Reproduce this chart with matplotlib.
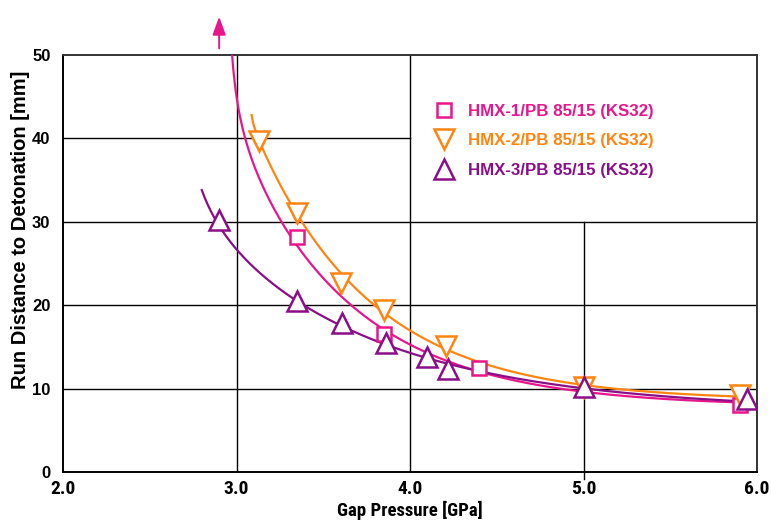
import numpy as np
import matplotlib
matplotlib.use("Agg")
import matplotlib.pyplot as plt

# Measured run distance to detonation vs. gap pressure
hmx1_p = [3.35, 3.85, 4.40, 5.90]
hmx1_run = [28.2, 16.6, 12.5, 8.0]

hmx2_p = [3.13, 3.35, 3.60, 3.85, 4.21, 5.00, 5.90]
hmx2_run = [39.7, 31.0, 22.7, 19.4, 15.1, 10.2, 9.2]

hmx3_p = [2.90, 3.35, 3.61, 3.86, 4.10, 4.22, 5.00, 5.94]
hmx3_run = [30.2, 20.5, 17.9, 15.5, 13.8, 12.3, 10.2, 8.8]

labels = ["HMX-1/PB 85/15 (KS32)", "HMX-2/PB 85/15 (KS32)", "HMX-3/PB 85/15 (KS32)"]
colors = ["#E8168A", "#FF8410", "#8A0E88"]
markers = ["s", "v", "^"]

# Trend-line coefficients: run = A + B*exp(-k*p) + D/(p - c)
hmx1_fit = dict(A=7.7130, B=2340.4, k=1.45, D=0.51222, c=2.9279)
hmx2_fit = dict(A=8.5518, B=3388.4, k=1.50, D=0.01456, c=3.0750)
hmx3_fit = dict(A=7.0578, B=281.22, k=0.95, D=1.2896, c=2.6176)
fit_ranges = [(2.975, 5.95), (3.087, 5.90), (2.80, 5.95)]

x_ticks = [2.0, 3.0, 4.0, 5.0, 6.0]
y_ticks = [0, 10, 20, 30, 40, 50]


def trend(p, A, B, k, D, c):
    return A + B * np.exp(-k * p) + D / (p - c)


fig = plt.figure(figsize=(7.71, 5.21), dpi=100)
ax = fig.add_axes([63 / 771, 1 - 472 / 521, (757 - 63) / 771, (472 - 55) / 521])

cond = ["Roboto Condensed", "Liberation Sans", "DejaVu Sans"]
plain = ["Liberation Sans", "DejaVu Sans"]

# partial grid, leaving the upper-right cell free for the legend
ax.axvline(3.0, color="black", lw=1.0, zorder=1)
ax.axvline(4.0, color="black", lw=1.0, zorder=1)
ax.plot([5.0, 5.0], [-0.8, 30], color="black", lw=1.0, zorder=1, clip_on=False)
for yv in (10, 20, 30):
    ax.axhline(yv, color="black", lw=1.0, zorder=1)
ax.plot([2.0, 4.0], [40, 40], color="black", lw=1.0, zorder=1)

series = [(hmx1_p, hmx1_run), (hmx2_p, hmx2_run), (hmx3_p, hmx3_run)]
fits = [hmx1_fit, hmx2_fit, hmx3_fit]
handles = []
for (px, py), fit, rng, lab, col, mk in zip(series, fits, fit_ranges, labels, colors, markers):
    xs = np.linspace(rng[0], rng[1], 400)
    ax.plot(xs, trend(xs, **fit), color=col, lw=1.6, zorder=3)
    h, = ax.plot(px, py, linestyle="none", marker=mk,
                 markersize=9.5 if mk == "s" else 14.5,
                 markerfacecolor="white", markeredgecolor=col, markeredgewidth=1.8,
                 zorder=4, label=lab)
    handles.append(h)

# off-scale indicator for HMX-1
ax.annotate("", xy=(2.9, 54.6), xytext=(2.9, 50.8), annotation_clip=False,
            arrowprops=dict(arrowstyle="-|>,head_length=0.55,head_width=0.2",
                            color=colors[0], lw=1.4, mutation_scale=20,
                            shrinkA=0, shrinkB=0))

ax.set_xlim(2.0, 6.0)
ax.set_ylim(0, 50)
ax.set_xticks(x_ticks)
ax.set_xticklabels([f"{v:.1f}" for v in x_ticks], fontfamily=cond, fontweight="bold", fontsize=14)
ax.set_yticks(y_ticks)
ax.set_yticklabels([str(v) for v in y_ticks], fontfamily=plain, fontweight="bold", fontsize=12)
ax.tick_params(axis="x", length=0, pad=6)
ax.tick_params(axis="y", length=0, pad=9)

for side in ("left", "bottom"):
    ax.spines[side].set_linewidth(1.4)
    ax.spines[side].set_color("black")
for side in ("top", "right"):
    ax.spines[side].set_linewidth(1.4)
    ax.spines[side].set_color("#333333")

xl = ax.set_xlabel("Gap Pressure [GPa]", fontsize=13.5, fontfamily=cond, fontweight="bold")
xl.set_va("center")
ax.xaxis.set_label_coords(0.5, -(510 - 472) / 417)

yl = ax.set_ylabel("Run Distance to Detonation [mm]", fontsize=14.5,
                   fontfamily=plain, fontweight="bold")
yl.set_va("center")
yl.set_ha("center")
yl.set_rotation_mode("default")
ax.yaxis.set_label_coords((21 - 63) / 694, (472 - 230) / 417)

leg = ax.legend(handles=handles, loc="upper left", bbox_to_anchor=(0.5375, 0.883),
                frameon=False, borderpad=0, borderaxespad=0, handlelength=1.0,
                handletextpad=0.9, labelspacing=0.85,
                prop=dict(family=plain, weight="bold", size=12.2))
for txt, col in zip(leg.get_texts(), colors):
    txt.set_color(col)

fig.savefig("out.png", dpi=100)
